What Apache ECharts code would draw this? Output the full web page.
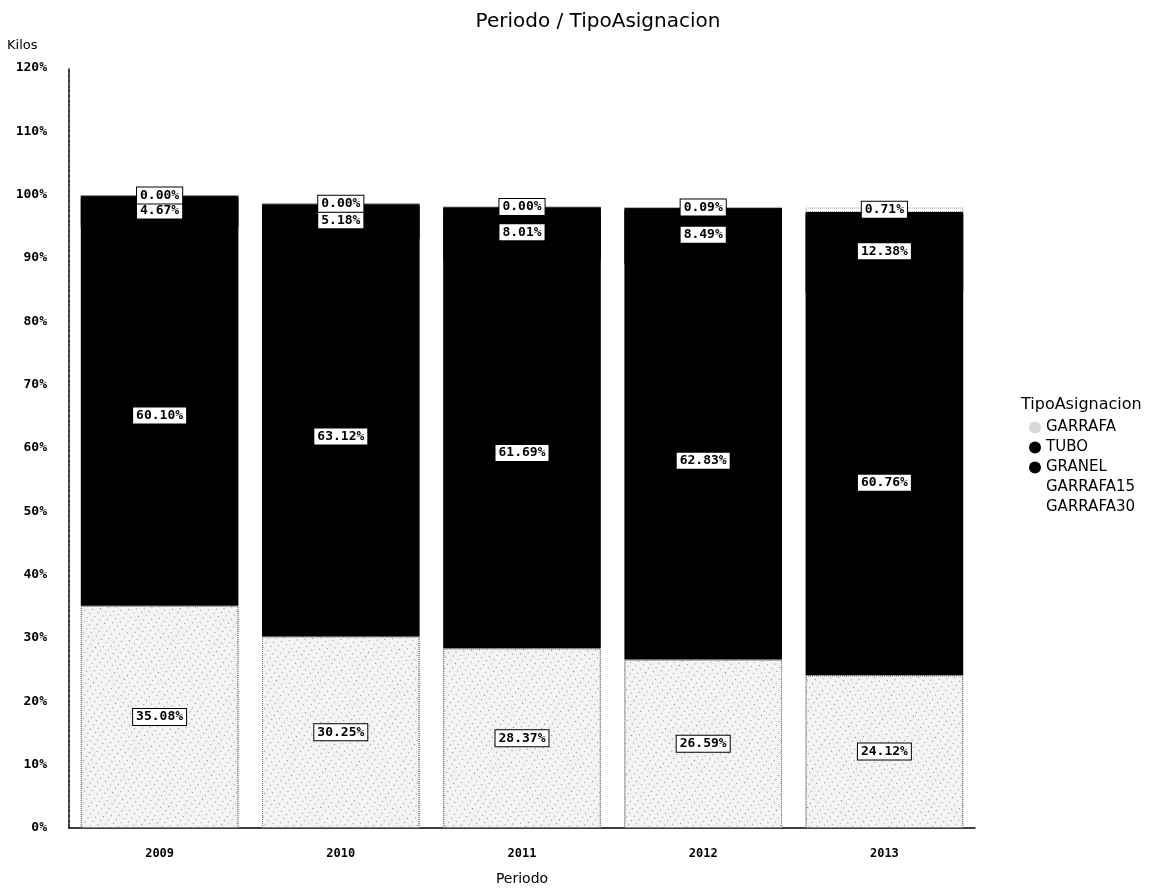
<!DOCTYPE html>
<html>
<head>
<meta charset="utf-8" />
<title>Periodo / TipoAsignacion</title>
<script src="https://cdn.jsdelivr.net/npm/echarts@6/dist/echarts.min.js"></script>
</head>
<body style="margin:0;background:#fff;">
<div id="echart" style="width:1165px;height:891px;"></div>
<script type="text/javascript">
// datos
var periodos = ['2009', '2010', '2011', '2012', '2013'];
var garrafa   = [35.08, 30.25, 28.37, 26.59, 24.12];
var tubo      = [60.10, 63.12, 61.69, 62.83, 60.76];
var granel    = [4.67, 5.18, 8.01, 8.49, 12.38];
var garrafa15 = [0.00, 0.00, 0.00, 0.09, 0.71];
var garrafa30 = [0, 0, 0, 0, 0];
var yTicks = [0, 10, 20, 30, 40, 50, 60, 70, 80, 90, 100, 110, 120];

var etiqueta = {
    show: true,
    position: 'inside',
    formatter: function (p) { return p.value.toFixed(2) + '%'; },
    color: '#000',
    backgroundColor: '#fff',
    borderColor: '#000',
    borderWidth: 1,
    padding: [2, 3, 1, 3],
    fontFamily: 'DejaVu Sans Mono',
    fontSize: 13,
    fontWeight: 'bold'
};

var myChart = echarts.init(document.getElementById("echart"));
var option = {
    animation: false,
    title: [
        { text: 'Periodo / TipoAsignacion', left: 593, top: 7, textAlign: 'center',
          textStyle: { fontFamily: 'DejaVu Sans', fontSize: 20, fontWeight: 'normal', color: '#000' } },
        { text: 'TipoAsignacion', left: 1016, top: 392,
          textStyle: { fontFamily: 'DejaVu Sans', fontSize: 16, fontWeight: 'normal', color: '#000' } }
    ],
    legend: {
        orient: 'vertical',
        left: 1024,
        top: 415,
        icon: 'circle',
        itemWidth: 12,
        itemHeight: 12,
        itemGap: 5,
        textStyle: { fontFamily: 'DejaVu Sans', fontSize: 15, color: '#000' },
        data: [
            { name: 'GARRAFA', itemStyle: { color: '#d8d8d8', borderWidth: 0, decal: 'none' } },
            { name: 'TUBO', itemStyle: { color: '#000', borderWidth: 0 } },
            { name: 'GRANEL', itemStyle: { color: '#000', borderWidth: 0, shadowOffsetY: 0 } },
            { name: 'GARRAFA15', itemStyle: { color: '#fff', borderWidth: 0 } },
            { name: 'GARRAFA30', itemStyle: { color: '#fff', borderWidth: 0 } }
        ]
    },
    grid: { left: 69, right: 190, top: 68, bottom: 60 },
    xAxis: {
        type: 'category',
        data: periodos,
        name: 'Periodo',
        nameLocation: 'middle',
        nameGap: 44,
        nameTextStyle: { fontFamily: 'DejaVu Sans', fontSize: 14, color: '#000' },
        axisLine: { lineStyle: { color: '#000', width: 1.5 } },
        axisTick: { show: false },
        axisLabel: { margin: 20, fontFamily: 'DejaVu Sans Mono', fontSize: 12, fontWeight: 'bold', color: '#000' }
    },
    yAxis: {
        type: 'value',
        min: 0,
        max: 120,
        interval: 10,
        name: 'Kilos',
        nameLocation: 'end',
        nameGap: 16,
        nameTextStyle: { align: 'left', padding: [0, 0, 0, -62], fontFamily: 'DejaVu Sans', fontSize: 13, color: '#000' },
        axisLine: { show: true, lineStyle: { color: '#000', width: 1.5, type: [4, 1] } },
        axisTick: { show: false },
        splitLine: { show: false },
        axisLabel: {
            margin: 22,
            fontFamily: 'DejaVu Sans Mono',
            fontSize: 13,
            fontWeight: 'bold',
            color: '#000',
            formatter: function (v) { return yTicks.indexOf(v) >= 0 ? v + '%' : ''; }
        }
    },
    series: [
        {
            name: 'GARRAFA', type: 'bar', stack: 'total', data: garrafa,
            barCategoryGap: '13%',
            itemStyle: {
                color: '#f3f3f3', borderColor: '#777', borderWidth: 1, borderType: 'dotted',
                decal: { symbol: 'rect', symbolSize: 0.8, color: 'rgba(0,0,0,0.55)',
                         dashArrayX: [1, 5], dashArrayY: [1, 4], rotation: 0.6 }
            },
            label: etiqueta
        },
        {
            name: 'TUBO', type: 'bar', stack: 'total', data: tubo,
            itemStyle: { color: '#000' },
            label: etiqueta
        },
        {
            name: 'GRANEL', type: 'bar', stack: 'total', data: granel,
            // sombra de 2px hacia abajo para tapar la junta con TUBO
            itemStyle: { color: '#000', shadowColor: '#000', shadowBlur: 0, shadowOffsetY: 2 },
            label: etiqueta
        },
        {
            name: 'GARRAFA15', type: 'bar', stack: 'total', data: garrafa15,
            itemStyle: { color: '#fff', borderColor: '#999', borderWidth: 1, borderType: 'dotted' },
            label: etiqueta
        },
        {
            name: 'GARRAFA30', type: 'bar', stack: 'total', data: garrafa30,
            itemStyle: { color: '#fff' },
            label: { show: false }
        }
    ]
};
myChart.setOption(option);
</script>
</body>
</html>
